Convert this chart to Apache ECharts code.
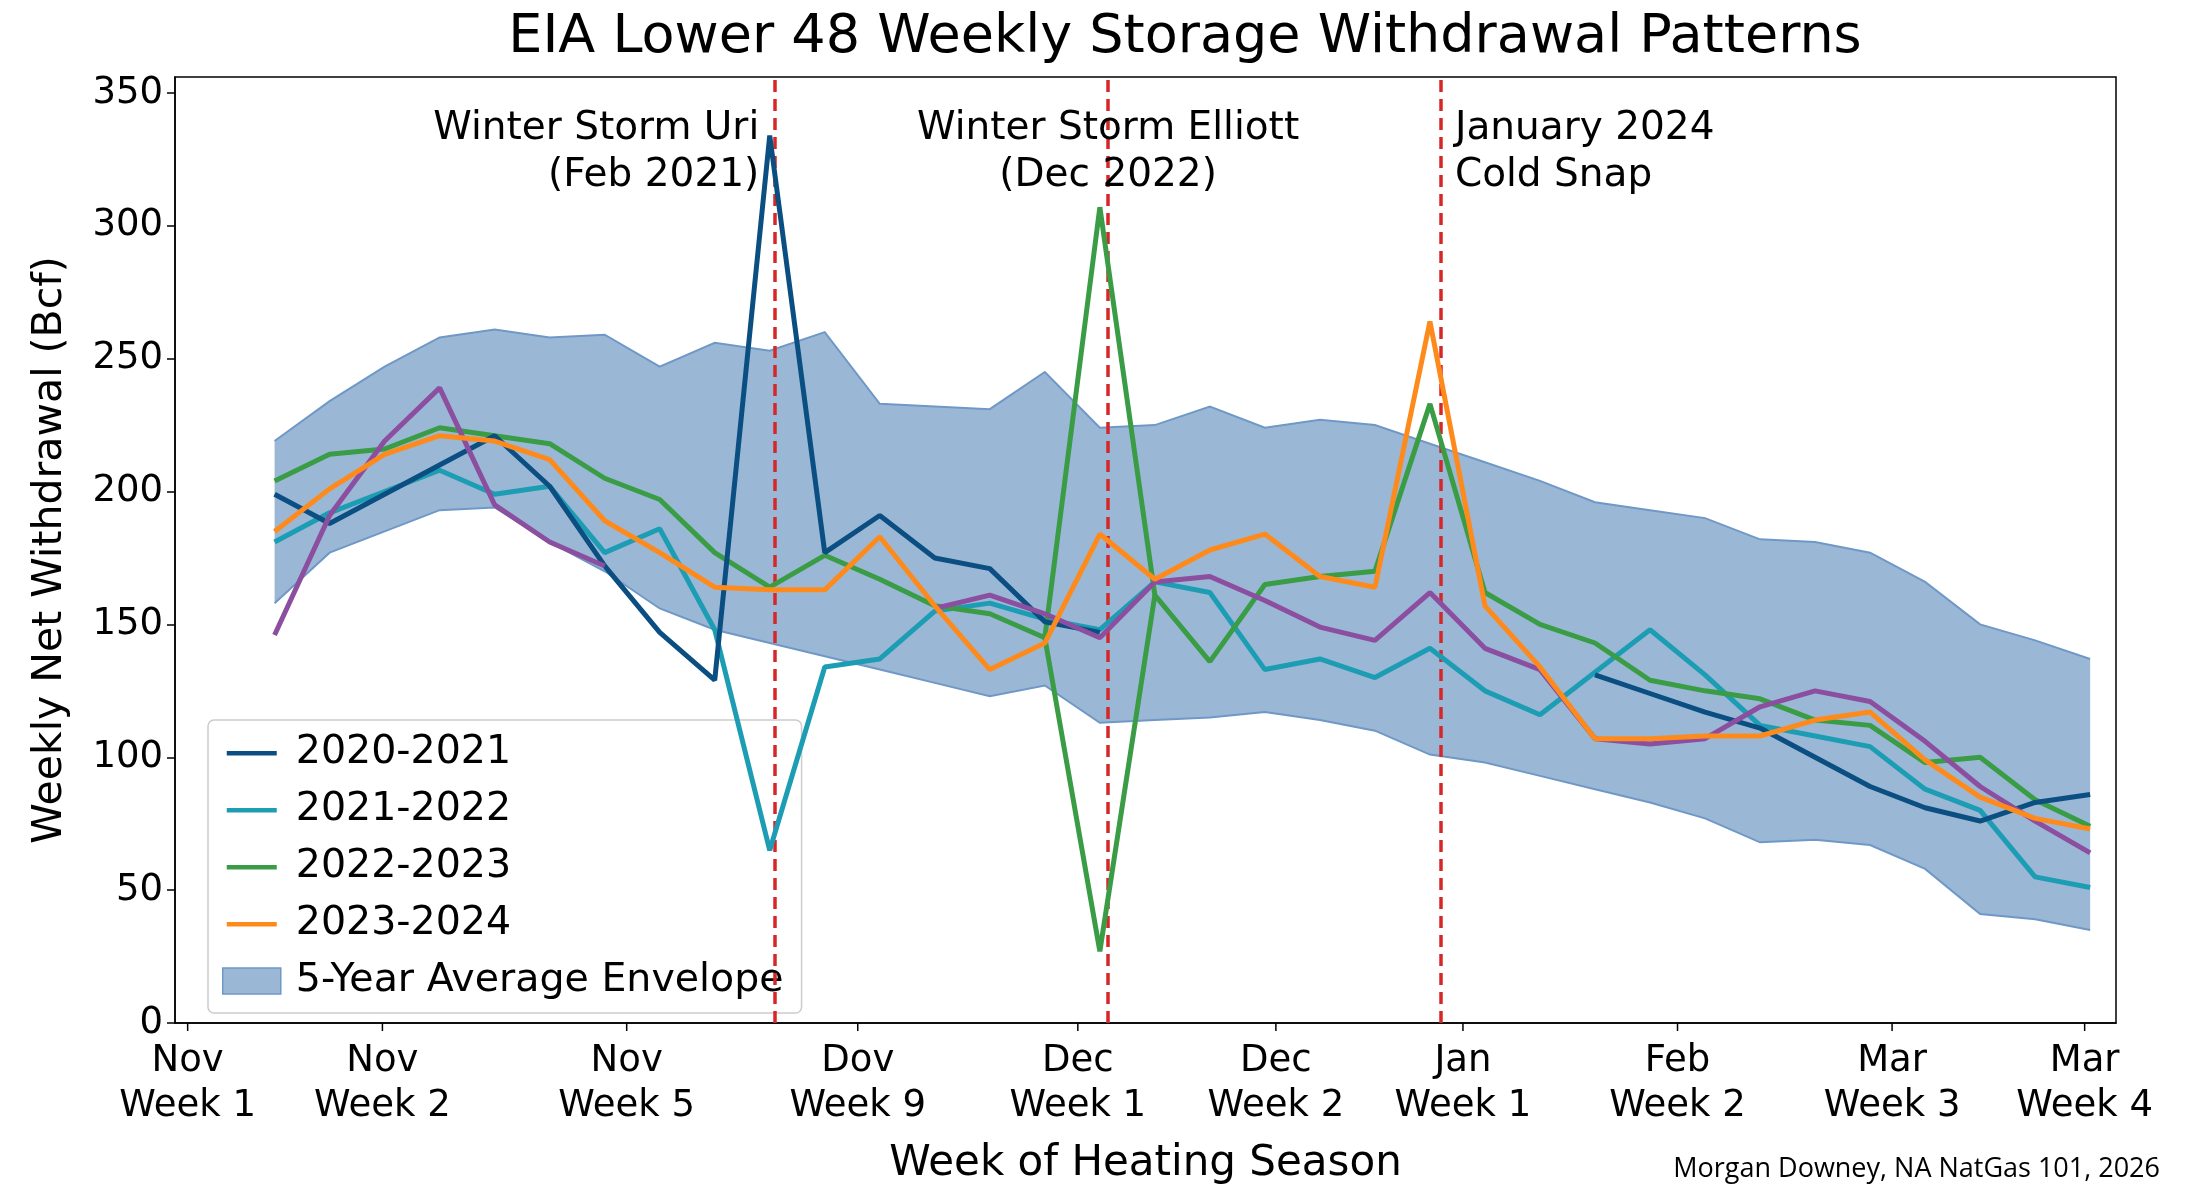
<!DOCTYPE html>
<html><head><meta charset="utf-8">
<script src="https://cdn.jsdelivr.net/npm/echarts@6/dist/echarts.min.js"></script>
<style>html,body{margin:0;padding:0;background:#fff}#c{width:2200px;height:1198px}</style>
</head><body><div id="c"></div>
<script>
const weeks = Array.from({length:34},(_,i)=>i);
const envUpper = [219,234,247,258,261,258,259,247,256,253,260,233,232,231,245,224,225,232,224,227,225,218,211,204,196,193,190,182,181,177,166,150,144,137];
const envLower = [158,177,185,193,194,181,170,156,148,143,138,133,128,123,127,113,114,115,117,114,110,101,98,93,88,83,77,68,69,67,58,41,39,35];
const s2020 = [199,188,199,210,221,202,172,147,129,334,177,191,175,171,151,147,null,null,null,null,null,null,null,null,131,124,117,111,100,89,81,76,83,86];
const s2021 = [181,192,200,208,199,202,177,186,148,65,134,137,155,158,152,148,166,162,133,137,130,141,125,116,132,148,131,112,108,104,88,80,55,51];
const s2022 = [204,214,216,224,221,218,205,197,177,164,176,167,157,154,145,307,161,136,165,168,170,233,162,150,143,129,125,122,114,112,98,100,84,74];
const s2022dip = [[14,145],[15,27],[16,161]];
const s2023 = [185,201,214,221,219,212,189,177,164,163,163,183,157,133,143,184,167,178,184,168,164,264,157,134,107,107,108,108,114,117,99,85,77,73];
const sExtra = [146,191,219,239,195,181,172,null,null,null,null,null,156,161,154,145,166,168,159,149,144,162,141,133,107,105,107,119,125,121,106,89,76,64];
const tickPos = [-1.58,1.96,6.4,10.6,14.6,18.2,21.6,25.5,29.4,32.9];
const tickLabels = ['Nov\nWeek 1','Nov\nWeek 2','Nov\nWeek 5','Dov\nWeek 9','Dec\nWeek 1','Dec\nWeek 2','Jan\nWeek 1','Feb\nWeek 2','Mar\nWeek 3','Mar\nWeek 4'];
const eventPos = [9.1,15.15,21.2];
const eventLabels = ['Winter Storm Uri\n(Feb 2021)','Winter Storm Elliott\n(Dec 2022)','January 2024\nCold Snap'];
const eventAlign = ['right','center','left'];

const pair = a => a.map((v,i)=>[weeks[i],v]);
const F = 'DejaVu Sans';
const lineIcon = 'path://M0,0 M0,11 h50 v4.5 h-50 z M50,26';
const C = {a:'#0b4f82',b:'#1d9db3',c:'#3a9d45',d:'#ff8a1c',e:'#8c4f9f',env:'#9ab8d6',envL:'#6f98c6'};
function ln(name,data,color,extra){return Object.assign({type:'line',name,data,showSymbol:false,symbol:'none',connectNulls:false,lineStyle:{color,width:5},itemStyle:{color},z:5},extra||{});}

const chart = echarts.init(document.getElementById('c'),null,{renderer:'canvas'});
chart.setOption({
  animation:false,
  title:{text:'EIA Lower 48 Weekly Storage Withdrawal Patterns',left:1180,top:6,textAlign:'center',textStyle:{fontFamily:F,fontSize:54,fontWeight:'normal',color:'#000'}},
  grid:{left:175,right:84,top:77,bottom:175,show:true,borderColor:'#000',borderWidth:1.5,backgroundColor:'transparent'},
  xAxis:{type:'value',min:-1.81,max:33.47,splitLine:{show:false},axisLabel:{show:false},axisTick:{show:false},axisLine:{onZero:false,lineStyle:{color:'#000',width:1.5}},
    name:'Week of Heating Season',nameLocation:'middle',nameGap:120,nameTextStyle:{fontFamily:F,fontSize:42,color:'#000'}},
  yAxis:{type:'value',min:0,max:356,interval:50,splitLine:{show:false},axisLine:{show:true,onZero:false,lineStyle:{color:'#000',width:1.5}},axisTick:{show:true,length:8,lineStyle:{color:'#000',width:1.5}},
    axisLabel:{fontFamily:F,fontSize:37,color:'#000',margin:12,showMaxLabel:false},
    name:'Weekly Net Withdrawal (Bcf)',nameLocation:'middle',nameGap:104,nameTextStyle:{fontFamily:F,fontSize:41,color:'#000'}},
  legend:{orient:'vertical',left:208,top:720,padding:[13,18,12,14],itemGap:17,itemWidth:58,itemHeight:26,
    backgroundColor:'rgba(255,255,255,0.82)',borderColor:'#cccccc',borderWidth:1.5,borderRadius:6,
    textStyle:{fontFamily:F,fontSize:39.5,color:'#000',padding:[0,0,0,10]},
    data:[{name:'2020-2021',icon:lineIcon},{name:'2021-2022',icon:lineIcon},{name:'2022-2023',icon:lineIcon},{name:'2023-2024',icon:lineIcon},
      {name:'5-Year Average Envelope',icon:'rect',itemStyle:{color:C.env,borderColor:C.envL,borderWidth:1.5}}]},
  graphic:[{type:'text',right:40,top:1156,style:{text:'Morgan Downey, NA NatGas 101, 2026',fontFamily:'Open Sans',fontSize:27,fill:'#000'}}],
  series:[
    {type:'custom',name:'5-Year Average Envelope',data:weeks.map(i=>[i,envLower[i],envUpper[i]]),z:1,silent:true,
      itemStyle:{color:C.env},
      renderItem:(params,api)=>{
        if(params.dataIndex!==0) return null;
        const up=weeks.map(i=>api.coord([i,envUpper[i]]));
        const lo=weeks.map(i=>api.coord([i,envLower[i]]));
        return {type:'group',children:[
          {type:'polygon',shape:{points:up.concat(lo.slice().reverse())},style:{fill:C.env,stroke:null}},
          {type:'polyline',shape:{points:up},style:{stroke:C.envL,lineWidth:2,fill:null}},
          {type:'polyline',shape:{points:lo},style:{stroke:C.envL,lineWidth:2,fill:null}}]};}},
    {type:'line',name:'events',data:[],markLine:{silent:true,symbol:'none',label:{show:false},lineStyle:{color:'#d62728',width:3.5,type:[12,7]},data:eventPos.map(x=>({xAxis:x}))},z:4},
    ln('2020-2021',pair(s2020),C.a,{z:6}),
    ln('2021-2022',pair(s2021),C.b),
    ln('2022-2023',pair(s2022),C.c),
    ln('2022-2023 dip',s2022dip,C.c),
    ln('2023-2024',pair(s2023),C.d,{z:7}),
    ln('extra',pair(sExtra),C.e,{z:6}),
    {type:'custom',name:'xticks',data:tickPos.map((p,i)=>[p,i]),clip:false,silent:true,z:10,
      renderItem:(params,api)=>{const p=api.coord([api.value(0),0]);const i=api.value(1);
        return {type:'group',children:[
          {type:'line',shape:{x1:p[0],y1:p[1],x2:p[0],y2:p[1]+8},style:{stroke:'#000',lineWidth:1.5}},
          {type:'text',x:p[0],y:p[1]+16,style:{text:tickLabels[i],fontFamily:F,fontSize:37,lineHeight:45,fill:'#000',align:'center',verticalAlign:'top'}}]};}},
    {type:'custom',name:'annot',data:eventPos.map((p,i)=>[p,i]),clip:false,silent:true,z:10,
      renderItem:(params,api)=>{const i=api.value(1);const p=api.coord([api.value(0),350]);
        const dx=eventAlign[i]==='right'?-16:(eventAlign[i]==='left'?14:0);
        return {type:'text',x:p[0]+dx,y:p[1]+12,style:{text:eventLabels[i],fontFamily:F,fontSize:39,lineHeight:47,fill:'#000',align:eventAlign[i],verticalAlign:'top'}};}}
  ]
});
</script></body></html>
